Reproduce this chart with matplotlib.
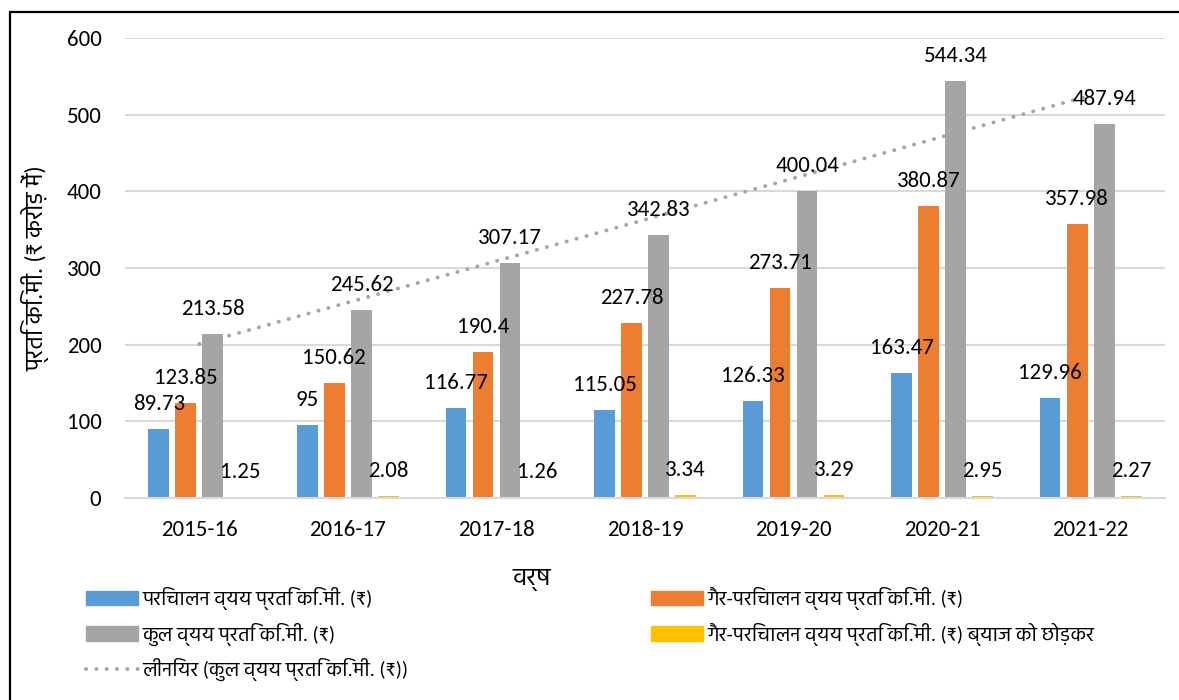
import matplotlib
matplotlib.use('Agg')
import matplotlib.pyplot as plt
import numpy as np
from matplotlib.patches import Rectangle, Patch
from matplotlib.lines import Line2D

plt.rcParams['font.family'] = ['Carlito', 'Hind', 'DejaVu Sans']

years = ['2015-16', '2016-17', '2017-18', '2018-19', '2019-20', '2020-21', '2021-22']
operating = [89.73, 95, 116.77, 115.05, 126.33, 163.47, 129.96]
non_operating = [123.85, 150.62, 190.4, 227.78, 273.71, 380.87, 357.98]
total = [213.58, 245.62, 307.17, 342.83, 400.04, 544.34, 487.94]
non_op_ex_interest = [1.25, 2.08, 1.26, 3.34, 3.29, 2.95, 2.27]

names = ['परिचालन व्यय प्रति कि.मी. (₹)',
         'गैर-परिचालन व्यय प्रति कि.मी. (₹)',
         'कुल व्यय प्रति कि.मी. (₹)',
         'गैर-परिचालन व्यय प्रति कि.मी. (₹) ब्याज को छोड़कर']
trend_name = 'लीनियर (कुल व्यय प्रति कि.मी. (₹))'
colors = ['#5B9BD5', '#ED7D31', '#A5A5A5', '#FFC000']

fig = plt.figure(figsize=(11.79, 7.0), dpi=100)
ax = fig.add_axes([125 / 1179, 1 - 498 / 700, 1040 / 1179, 460 / 700])

x = np.arange(len(years))
slot = 0.182
width = 0.139
series = [operating, non_operating, total, non_op_ex_interest]
for i, (vals, c) in enumerate(zip(series, colors)):
    pos = x + (i - 1.5) * slot
    ax.bar(pos, vals, width=width, color=c, zorder=2)
    for px, v in zip(pos, vals):
        ax.annotate('{:g}'.format(v), (px, v), xytext=(0, 18), textcoords='offset points',
                    ha='center', va='center', fontsize=16.5, color='#000000', zorder=4)

# linear trendline of total
k, b = np.polyfit(x, total, 1)
ax.plot(x, k * x + b, color='#A5A5A5', lw=2.8, linestyle=(0, (0.05, 2.6)),
        dash_capstyle='round', zorder=3)

ax.set_xlim(-0.5, len(years) - 0.5)
ax.set_ylim(0, 600)
ax.set_yticks(range(0, 601, 100))
ax.set_xticks(x)
ax.set_xticklabels(years)
ax.grid(axis='y', color='#D9D9D9', lw=1.5, zorder=0)
ax.set_axisbelow(True)
for s in ['top', 'right', 'left']:
    ax.spines[s].set_visible(False)
ax.spines['bottom'].set_color('#D9D9D9')
ax.spines['bottom'].set_linewidth(1.5)
ax.tick_params(axis='both', length=0, labelsize=16.5, colors='#000000')
ax.tick_params(axis='y', pad=17)
ax.tick_params(axis='x', pad=16)

ax.set_ylabel('प्रति कि.मी. (₹ करोड़ में)', fontsize=17)
ax.yaxis.set_label_coords(-75 / 1040, 0.5)
fig.text(532 / 1179, 1 - 580 / 700, 'वर्ष', fontsize=18, ha='center', va='center')

h = [Patch(color=c) for c in colors]
trend_h = Line2D([0], [0], color='#A5A5A5', lw=2.8, linestyle=(0, (0.05, 2.6)),
                 dash_capstyle='round')
leg_kw = dict(frameon=False, fontsize=14.5, handlelength=2.6, handleheight=0.75,
              handletextpad=0.2, labelspacing=0.62, borderpad=0, borderaxespad=0)
fig.legend([h[0], h[2], trend_h], [names[0], names[2], trend_name],
           loc='upper left', bbox_to_anchor=(86 / 1179, 1 - 587 / 700), **leg_kw)
fig.legend([h[1], h[3]], [names[1], names[3]],
           loc='upper left', bbox_to_anchor=(651 / 1179, 1 - 587 / 700), **leg_kw)

fig.patches.append(Rectangle((10 / 1179, -0.1), 1.2, 1.1 - 12 / 700, transform=fig.transFigure,
                             fill=False, edgecolor='#000000', lw=1.6))

fig.savefig('out.png')
